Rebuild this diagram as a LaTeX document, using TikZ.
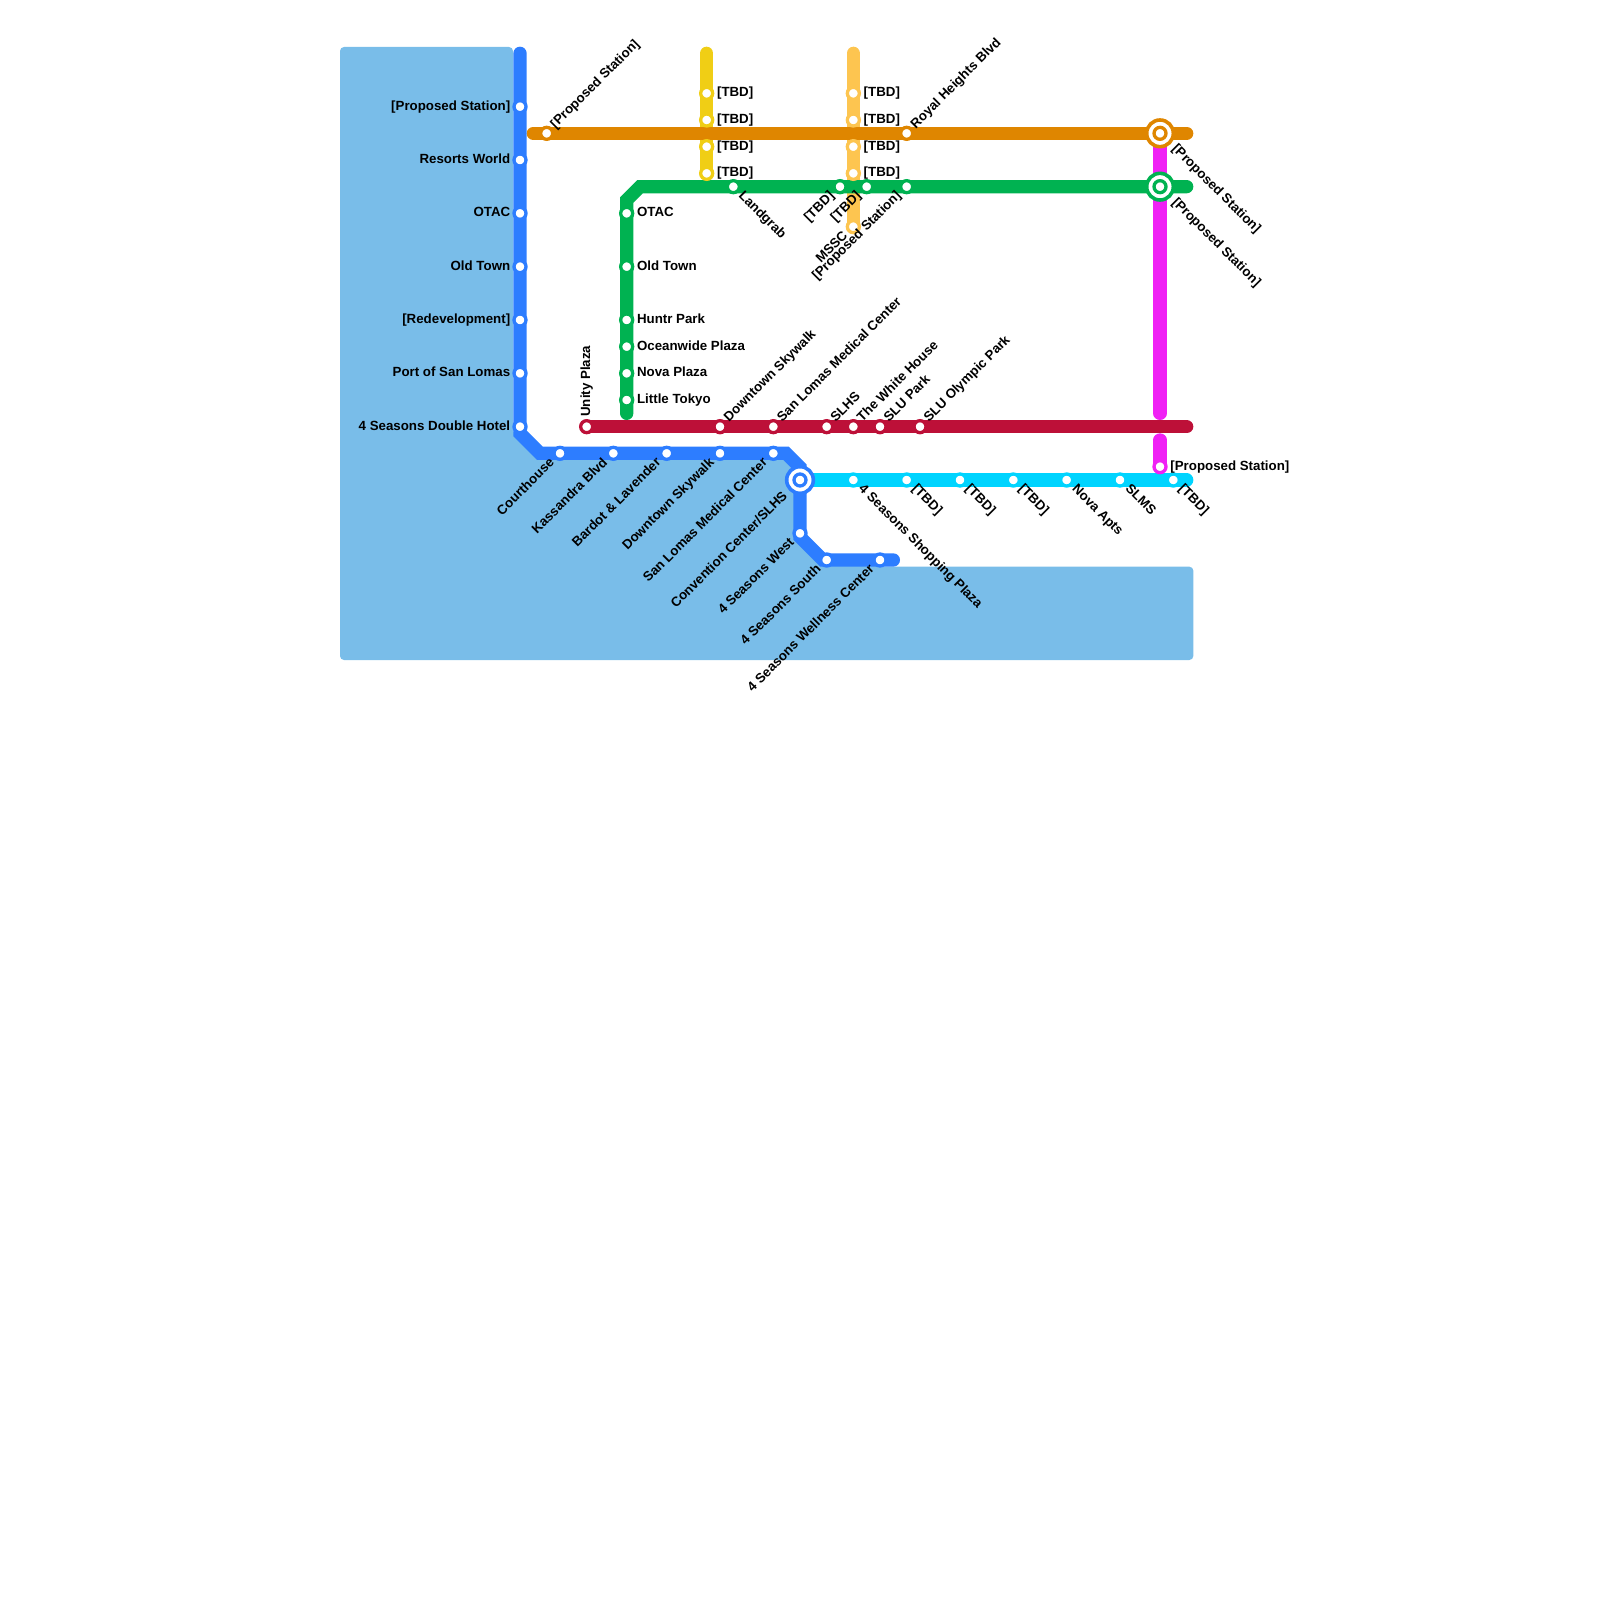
\documentclass[tikz,border=0pt]{standalone}
\usepackage{fontspec}
\setmainfont{Liberation Sans}
\usepackage{xcolor}
\usetikzlibrary{positioning}
\definecolor{landc}{HTML}{79BDE9}
\definecolor{bluel}{HTML}{2D7DFF}
\definecolor{orangel}{HTML}{DF8600}
\definecolor{greenl}{HTML}{00B251}
\definecolor{yellowl}{HTML}{F0CE15}
\definecolor{goldl}{HTML}{FDC550}
\definecolor{redl}{HTML}{BD1038}
\definecolor{cyanl}{HTML}{00D4FF}
\definecolor{pinkl}{HTML}{F020F5}

\begin{document}
\begin{tikzpicture}[x=1pt, y=-1pt, node distance=41.33pt,
	metro/.style={draw=#1, line width=13.33pt, line cap=round},
	stn/.style={circle, draw=#1, fill=white, line width=3.3pt, minimum size=12pt, inner sep=0pt, outer sep=0pt},
	hub/.style={circle, draw=#1, fill=white, line width=3.6pt, minimum size=26.67pt, inner sep=0pt, outer sep=0pt},
	lbl/.style={inner sep=0pt, outer sep=0pt, text height=9.6pt, text depth=2.8pt, font=\fontsize{13.3pt}{16pt}\selectfont\bfseries},
	lblne/.style={lbl, anchor=west, rotate=45, xshift=9.5pt},
	lblse/.style={lbl, anchor=west, rotate=-45, xshift=10.3pt},
	lblsw/.style={lbl, anchor=east, rotate=45, xshift=-10.7pt},
	hubse/.style={lbl, anchor=west, rotate=-45, xshift=19.8pt},
	hubsw/.style={lbl, anchor=east, rotate=45, xshift=-20.5pt}]
	
	\useasboundingbox (0,0) rectangle (1600,1600);
	
	% Land
	\fill[landc, rounded corners=4pt] (340,47) -- (513,47) -- (513,433.33) -- (540,453.33) -- (786,453.33) -- (800,467.33) -- (800,537) -- (823,560) -- (880,560) -- (880,566.67) -- (1193.33,566.67) -- (1193.33,660) -- (340,660) -- cycle;
	
	% Line ends and bends
	\coordinate (ytop) at (706.67,53.33);
	\coordinate (yend) at (706.67,173.33);
	\coordinate (ltop) at (853.33,53.33);
	\coordinate (lend) at (853.33,226.67);
	\coordinate (ptop) at (1160,133.33);
	\coordinate (pcut) at (1160,413.33);
	\coordinate (pres) at (1160,440);
	\coordinate (pend) at (1160,466.67);
	\coordinate (ostart) at (533.33,133.33);
	\coordinate (oend) at (1186.67,133.33);
	\coordinate (gstart) at (626.67,413.33);
	\coordinate (gbend1) at (626.67,200);
	\coordinate (gbend2) at (640,186.67);
	\coordinate (gend) at (1186.67,186.67);
	\coordinate (rstart) at (586.67,426.67);
	\coordinate (rend) at (1186.67,426.67);
	\coordinate (cstart) at (800,480);
	\coordinate (cend) at (1186.67,480);
	\coordinate (btop) at (520,53.33);
	\coordinate (bbend1) at (520,433.33);
	\coordinate (bbend2) at (540,453.33);
	\coordinate (bbend3) at (786,453.33);
	\coordinate (bbend4) at (800,467.33);
	\coordinate (bbend5) at (800,537);
	\coordinate (bbend6) at (823,560);
	\coordinate (bend) at (893.33,560);
	
	% Lines
	\draw[metro=yellowl] (ytop) -- (yend);
	\draw[metro=goldl] (ltop) -- (lend);
	\draw[metro=pinkl] (ptop) -- (pcut);
	\draw[metro=pinkl] (pres) -- (pend);
	\draw[metro=orangel] (ostart) -- (oend);
	\draw[metro=greenl] (gstart) -- (gbend1) -- (gbend2) -- (gend);
	\draw[metro=redl] (rstart) -- (rend);
	\draw[metro=cyanl] (cstart) -- (cend);
	\draw[metro=bluel] (btop) -- (bbend1) -- (bbend2) -- (bbend3) -- (bbend4) -- (bbend5) -- (bbend6) -- (bend);
	
	% Interchanges
	\node[hub=bluel] (hubb) at (800,480) {};
	\node[hub=orangel] (hubo) at (1160,133.33) {};
	\node[hub=greenl] (hubg) at (1160,186.67) {};
	
	% Blue stations
	\node[stn=bluel] (b1) at (520,106.67) {};
	\node[stn=bluel, below=of b1] (b2) {};
	\node[stn=bluel, below=of b2] (b3) {};
	\node[stn=bluel, below=of b3] (b4) {};
	\node[stn=bluel, below=of b4] (b5) {};
	\node[stn=bluel, below=of b5] (b6) {};
	\node[stn=bluel, below=of b6] (b7) {};
	\node[stn=bluel] (b8) at (560,453.33) {};
	\node[stn=bluel, right=of b8] (b9) {};
	\node[stn=bluel, right=of b9] (b10) {};
	\node[stn=bluel, right=of b10] (b11) {};
	\node[stn=bluel, right=of b11] (b12) {};
	\node[stn=bluel] (b13) at (hubb) {};
	\node[stn=bluel] (b14) at (800,533.33) {};
	\node[stn=bluel] (b15) at (826.67,560) {};
	\node[stn=bluel, right=of b15] (b16) {};
	
	\node[lbl, left=3.8pt of b1] (b1t) {[Proposed Station]};
	\node[lbl, left=3.8pt of b2] (b2t) {Resorts World};
	\node[lbl, left=3.8pt of b3] (b3t) {OTAC};
	\node[lbl, left=3.8pt of b4] (b4t) {Old Town};
	\node[lbl, left=3.8pt of b5] (b5t) {[Redevelopment]};
	\node[lbl, left=3.8pt of b6] (b6t) {Port of San Lomas};
	\node[lbl, left=3.8pt of b7] (b7t) {4 Seasons Double Hotel};
	\node[lblsw] (b8t) at (b8) {Courthouse};
	\node[lblsw] (b9t) at (b9) {Kassandra Blvd};
	\node[lblsw] (b10t) at (b10) {Bardot \& Lavender};
	\node[lblsw] (b11t) at (b11) {Downtown Skywalk};
	\node[lblsw] (b12t) at (b12) {San Lomas Medical Center};
	\node[hubsw] (b13t) at (b13) {Convention Center/SLHS};
	\node[lblsw] (b14t) at (b14) {4 Seasons West};
	\node[lblsw] (b15t) at (b15) {4 Seasons South};
	\node[lblsw] (b16t) at (b16) {4 Seasons Wellness Center};
	
	% Orange stations
	\node[stn=orangel] (o1) at (546.67,133.33) {};
	\node[stn=orangel] (o2) at (906.67,133.33) {};
	\node[stn=orangel] (o3) at (hubo) {};
	
	\node[lblne] (o1t) at (o1) {[Proposed Station]};
	\node[lblne] (o2t) at (o2) {Royal Heights Blvd};
	\node[hubse] (o3t) at (o3) {[Proposed Station]};
	
	% Yellow stations
	\node[stn=yellowl] (y1) at (706.67,93.33) {};
	\node[stn=yellowl, below=14.67pt of y1] (y2) {};
	\node[stn=yellowl, below=14.67pt of y2] (y3) {};
	\node[stn=yellowl, below=14.67pt of y3] (y4) {};
	
	\node[lbl, right=4.4pt of y1] (y1t) {[TBD]};
	\node[lbl, right=4.4pt of y2] (y2t) {[TBD]};
	\node[lbl, right=4.4pt of y3] (y3t) {[TBD]};
	\node[lbl, right=4.4pt of y4] (y4t) {[TBD]};
	
	% Gold stations
	\node[stn=goldl] (l1) at (853.33,93.33) {};
	\node[stn=goldl, below=14.67pt of l1] (l2) {};
	\node[stn=goldl, below=14.67pt of l2] (l3) {};
	\node[stn=goldl, below=14.67pt of l3] (l4) {};
	\node[stn=goldl, below=of l4] (l5) {};
	
	\node[lbl, right=4.4pt of l1] (l1t) {[TBD]};
	\node[lbl, right=4.4pt of l2] (l2t) {[TBD]};
	\node[lbl, right=4.4pt of l3] (l3t) {[TBD]};
	\node[lbl, right=4.4pt of l4] (l4t) {[TBD]};
	\node[lblsw] (l5t) at (l5) {MSSC};
	
	% Green stations
	\node[stn=greenl] (g1) at (626.67,213.33) {};
	\node[stn=greenl, below=of g1] (g2) {};
	\node[stn=greenl, below=of g2] (g3) {};
	\node[stn=greenl, below=14.67pt of g3] (g4) {};
	\node[stn=greenl, below=14.67pt of g4] (g5) {};
	\node[stn=greenl, below=14.67pt of g5] (g6) {};
	\node[stn=greenl] (g7) at (733.33,186.67) {};
	\node[stn=greenl] (g8) at (840,186.67) {};
	\node[stn=greenl, right=14.67pt of g8] (g9) {};
	\node[stn=greenl, right=28pt of g9] (g10) {};
	\node[stn=greenl] (g11) at (hubg) {};
	
	\node[lbl, right=4.4pt of g1] (g1t) {OTAC};
	\node[lbl, right=4.4pt of g2] (g2t) {Old Town};
	\node[lbl, right=4.4pt of g3] (g3t) {Huntr Park};
	\node[lbl, right=4.4pt of g4] (g4t) {Oceanwide Plaza};
	\node[lbl, right=4.4pt of g5] (g5t) {Nova Plaza};
	\node[lbl, right=4.4pt of g6] (g6t) {Little Tokyo};
	\node[lblse] (g7t) at (g7) {Landgrab};
	\node[lblsw] (g8t) at (g8) {[TBD]};
	\node[lblsw] (g9t) at (g9) {[TBD]};
	\node[lblsw] (g10t) at (g10) {[Proposed Station]};
	\node[hubse] (g11t) at (g11) {[Proposed Station]};
	
	% Red stations
	\node[stn=redl] (r1) at (586.67,426.67) {};
	\node[stn=redl] (r2) at (720,426.67) {};
	\node[stn=redl, right=of r2] (r3) {};
	\node[stn=redl, right=of r3] (r4) {};
	\node[stn=redl, right=14.67pt of r4] (r5) {};
	\node[stn=redl, right=14.67pt of r5] (r6) {};
	\node[stn=redl, right=28pt of r6] (r7) {};
	
	\node[lbl, anchor=west, rotate=90, xshift=10pt] (r1t) at (r1) {Unity Plaza};
	\node[lblne] (r2t) at (r2) {Downtown Skywalk};
	\node[lblne] (r3t) at (r3) {San Lomas Medical Center};
	\node[lblne] (r4t) at (r4) {SLHS};
	\node[lblne] (r5t) at (r5) {The White House};
	\node[lblne] (r6t) at (r6) {SLU Park};
	\node[lblne] (r7t) at (r7) {SLU Olympic Park};
	
	% Cyan stations
	\node[stn=cyanl] (c1) at (853.33,480) {};
	\node[stn=cyanl, right=of c1] (c2) {};
	\node[stn=cyanl, right=of c2] (c3) {};
	\node[stn=cyanl, right=of c3] (c4) {};
	\node[stn=cyanl, right=of c4] (c5) {};
	\node[stn=cyanl, right=of c5] (c6) {};
	\node[stn=cyanl, right=of c6] (c7) {};
	
	\node[lblse] (c1t) at (c1) {4 Seasons Shopping Plaza};
	\node[lblse] (c2t) at (c2) {[TBD]};
	\node[lblse] (c3t) at (c3) {[TBD]};
	\node[lblse] (c4t) at (c4) {[TBD]};
	\node[lblse] (c5t) at (c5) {Nova Apts};
	\node[lblse] (c6t) at (c6) {SLMS};
	\node[lblse] (c7t) at (c7) {[TBD]};
	
	% Pink station
	\node[stn=pinkl] (p1) at (1160,466.67) {};
	\node[lbl, right=4.4pt of p1] (p1t) {[Proposed Station]};
	
\end{tikzpicture}
\end{document}
